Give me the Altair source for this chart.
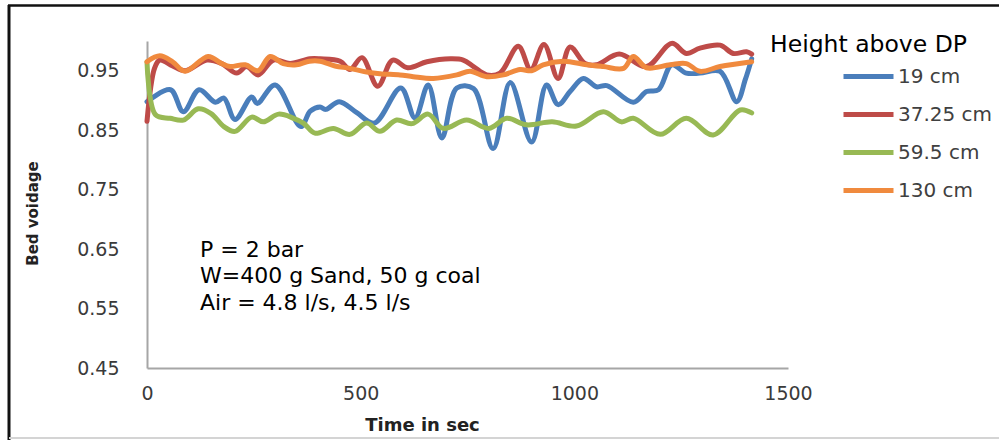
import altair as alt
import pandas as pd

# ---- data ----
series_names = ["19 cm", "37.25 cm", "59.5 cm", "130 cm"]
series_colors = ["#4A7EBB", "#BE4B48", "#98B954", "#F08A3E"]

blue_t = [0, 55, 85, 122, 160, 180, 206, 245, 258, 300, 360, 382, 405, 418, 450, 490, 532, 594, 627, 658, 690, 725, 764, 810, 850, 900, 935, 962, 990, 1021, 1052, 1076, 1138, 1169, 1197, 1228, 1262, 1294, 1341, 1380, 1400, 1415]
blue_v = [0.898, 0.918, 0.881, 0.918, 0.897, 0.904, 0.868, 0.906, 0.895, 0.926, 0.856, 0.882, 0.889, 0.885, 0.898, 0.880, 0.862, 0.921, 0.871, 0.926, 0.837, 0.921, 0.920, 0.819, 0.930, 0.830, 0.926, 0.893, 0.915, 0.937, 0.923, 0.925, 0.897, 0.915, 0.918, 0.960, 0.946, 0.946, 0.949, 0.898, 0.935, 0.970]

red_t = [0, 18, 30, 60, 90, 140, 175, 210, 233, 260, 296, 335, 381, 405, 452, 475, 503, 540, 575, 610, 655, 710, 740, 764, 795, 826, 869, 898, 929, 962, 990, 1025, 1052, 1105, 1169, 1228, 1262, 1294, 1341, 1372, 1403, 1415]
red_v = [0.865, 0.955, 0.968, 0.958, 0.950, 0.968, 0.962, 0.946, 0.957, 0.943, 0.968, 0.962, 0.970, 0.970, 0.966, 0.952, 0.972, 0.924, 0.968, 0.955, 0.965, 0.970, 0.968, 0.957, 0.943, 0.946, 0.991, 0.952, 0.994, 0.937, 0.990, 0.962, 0.960, 0.978, 0.957, 0.996, 0.979, 0.988, 0.993, 0.979, 0.982, 0.978]

green_t = [0, 20, 54, 85, 120, 150, 180, 206, 245, 272, 308, 343, 366, 393, 436, 475, 514, 545, 584, 620, 658, 693, 748, 800, 842, 888, 948, 1005, 1068, 1110, 1138, 1201, 1262, 1325, 1388, 1415]
green_v = [0.965, 0.876, 0.870, 0.867, 0.886, 0.878, 0.856, 0.848, 0.872, 0.864, 0.877, 0.870, 0.862, 0.845, 0.853, 0.843, 0.862, 0.848, 0.867, 0.861, 0.877, 0.853, 0.867, 0.853, 0.870, 0.859, 0.864, 0.857, 0.881, 0.864, 0.870, 0.843, 0.870, 0.842, 0.884, 0.879]

orange_t = [0, 30, 60, 89, 143, 175, 194, 230, 260, 288, 319, 350, 380, 405, 440, 475, 514, 545, 592, 623, 670, 725, 756, 795, 834, 873, 900, 927, 974, 1029, 1068, 1115, 1138, 1169, 1224, 1262, 1294, 1341, 1415]
orange_v = [0.965, 0.975, 0.965, 0.949, 0.974, 0.962, 0.957, 0.960, 0.950, 0.974, 0.962, 0.960, 0.966, 0.966, 0.958, 0.954, 0.948, 0.945, 0.943, 0.940, 0.937, 0.943, 0.949, 0.940, 0.943, 0.952, 0.950, 0.960, 0.966, 0.960, 0.957, 0.954, 0.974, 0.955, 0.960, 0.962, 0.949, 0.957, 0.965]

x_ticks = [0, 500, 1000, 1500]
y_ticks = [0.45, 0.55, 0.65, 0.75, 0.85, 0.95]

note_lines = ["P = 2 bar", "W=400 g Sand, 50 g coal", "Air = 4.8 l/s, 4.5 l/s"]
note_t = [124, 124, 124]
note_v = [0.649, 0.604, 0.559]

legend_title = "Height above DP"

# ---- build tables ----
frames = []
for name, t, v in zip(series_names,
                      [blue_t, red_t, green_t, orange_t],
                      [blue_v, red_v, green_v, orange_v]):
    frames.append(pd.DataFrame({"t": t, "v": v, "series": name}))

FONT = "DejaVu Sans"
xscale = alt.Scale(domain=[0, 1500], nice=False, zero=False)
yscale = alt.Scale(domain=[0.45, 1.0], nice=False, zero=False)
cscale = alt.Scale(domain=series_names, range=series_colors)

layers = []
for i, df in enumerate(frames):
    enc = dict(
        x=alt.X("t:Q", scale=xscale,
                axis=alt.Axis(values=x_ticks, title="Time in sec", format="d",
                              titleX=275, titleY=57, titleBaseline="middle",
                              titleFontWeight="bold", titleFontSize=18,
                              labelPadding=16, labelFlush=False)),
        y=alt.Y("v:Q", scale=yscale,
                axis=alt.Axis(values=y_ticks, format=".2f", title="Bed voidage",
                              titleX=-115, titleY=172, titleBaseline="middle",
                              titleFontWeight="bold", titleFontSize=15,
                              labelPadding=28, labelFlush=False)),
        color=alt.Color("series:N", scale=cscale,
                        legend=alt.Legend(title=None, orient="none",
                                          legendX=694, legendY=8,
                                          symbolType="stroke", symbolSize=2500,
                                          symbolStrokeWidth=5, rowPadding=0,
                                          labelFontSize=20, labelFont=FONT,
                                          labelColor="#404040", labelOffset=2,
                                          padding=0)),
    )
    layers.append(alt.Chart(df).mark_line(interpolate="catmull-rom", strokeWidth=5,
                                          strokeCap="round").encode(**enc))

notes_df = pd.DataFrame({"t": note_t, "v": note_v, "txt": note_lines})
notes = alt.Chart(notes_df).mark_text(align="left", baseline="middle", font=FONT,
                                      fontSize=22, color="#000000").encode(
    x=alt.X("t:Q", scale=xscale), y=alt.Y("v:Q", scale=yscale), text="txt:N")

one = pd.DataFrame({"a": [0]})
leg_title = alt.Chart(one).mark_text(align="left", baseline="middle", font=FONT,
                                     fontSize=23.5, color="#000000",
                                     text=legend_title).encode(
    x=alt.value(623), y=alt.value(4))

frame_left = alt.Chart(one).mark_rule(color="#111111", strokeWidth=3).encode(
    x=alt.value(-138), y=alt.value(-36), y2=alt.value(400))
frame_top = alt.Chart(one).mark_rule(color="#111111", strokeWidth=2.5).encode(
    x=alt.value(-139), x2=alt.value(860), y=alt.value(-35.5))
frame_bottom = alt.Chart(one).mark_rule(color="#d4d4d4", strokeWidth=2).encode(
    x=alt.value(-138), x2=alt.value(860), y=alt.value(397))

chart = alt.layer(frame_left, frame_top, frame_bottom, *layers, notes, leg_title).properties(
    width=641, height=327,
    autosize=alt.AutoSizeParams(type="none"),
    padding={"left": 147, "top": 41, "right": 211, "bottom": 72},
    background="white",
).configure_view(stroke=None).configure_axis(
    grid=False, ticks=False, domainColor="#a6a6a6", domainWidth=2,
    labelFont=FONT, labelFontSize=19, labelColor="#3a3a3a",
    titleFont=FONT, titleColor="#222222",
)

chart.save("out.html", embed_options={"renderer": "svg", "actions": False})
